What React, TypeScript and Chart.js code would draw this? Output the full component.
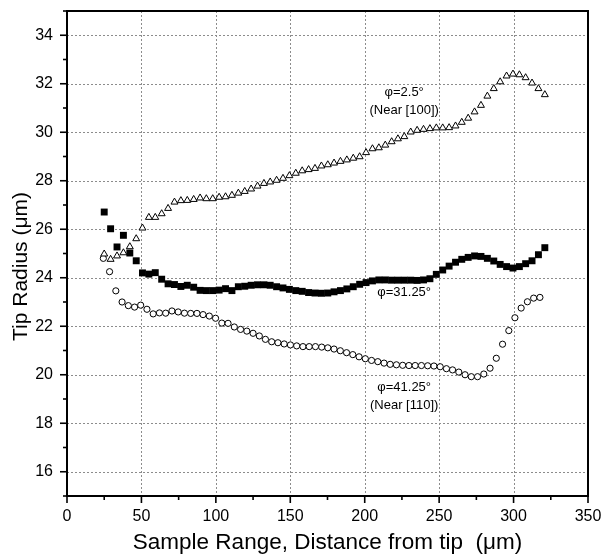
import React, { useEffect, useRef } from "react";
import { Chart, registerables } from "chart.js";

Chart.register(...registerables);

// Sample positions (µm) for the φ=2.5° and φ=31.25° series
const X_A = [
  25.0, 29.3, 33.6, 37.9, 42.2, 46.5, 50.7, 55.0, 59.3, 63.6,
  67.9, 72.2, 76.5, 80.8, 85.1, 89.4, 93.6, 97.9, 102.2, 106.5,
  110.8, 115.1, 119.4, 123.7, 128.0, 132.3, 136.5, 140.8, 145.1, 149.4,
  153.7, 158.0, 162.3, 166.6, 170.9, 175.2, 179.4, 183.7, 188.0, 192.3,
  196.6, 200.9, 205.2, 209.5, 213.8, 218.1, 222.3, 226.6, 230.9, 235.2,
  239.5, 243.8, 248.1, 252.4, 256.7, 261.0, 265.2, 269.5, 273.8, 278.1,
  282.4, 286.7, 291.0, 295.3, 299.6, 303.9, 308.1, 312.4, 316.7, 321.0,
];

// φ=2.5° (Near [100]) – open triangles
const Y_TRI = [
  24.98, 24.76, 24.9, 25.03, 25.28, 25.61, 26.05, 26.49, 26.49, 26.64,
  26.86, 27.12, 27.18, 27.19, 27.23, 27.29, 27.26, 27.26, 27.32, 27.34,
  27.4, 27.49, 27.56, 27.66, 27.78, 27.89, 27.95, 28.02, 28.1, 28.21,
  28.31, 28.41, 28.46, 28.51, 28.61, 28.66, 28.73, 28.8, 28.86, 28.93,
  28.99, 29.16, 29.32, 29.36, 29.47, 29.61, 29.73, 29.82, 30.01, 30.08,
  30.12, 30.15, 30.18, 30.18, 30.19, 30.26, 30.41, 30.58, 30.84, 31.11,
  31.49, 31.8, 32.08, 32.32, 32.4, 32.37, 32.25, 32.03, 31.8, 31.55,
];

// φ=31.25° – filled squares
const Y_SQR = [
  26.71, 26.02, 25.27, 25.75, 25.02, 24.7, 24.2, 24.15, 24.21, 23.94,
  23.75, 23.72, 23.64, 23.69, 23.61, 23.48, 23.47, 23.47, 23.49, 23.55,
  23.47, 23.63, 23.65, 23.69, 23.71, 23.71, 23.69, 23.63, 23.58, 23.52,
  23.47, 23.44, 23.39, 23.37, 23.36, 23.37, 23.42, 23.47, 23.54, 23.63,
  23.73, 23.8, 23.87, 23.91, 23.91, 23.9, 23.9, 23.9, 23.9, 23.89,
  23.91, 23.96, 24.14, 24.32, 24.48, 24.64, 24.76, 24.84, 24.9, 24.88,
  24.8, 24.69, 24.55, 24.46, 24.4, 24.46, 24.58, 24.7, 24.95, 25.24,
];

// Sample positions (µm) for the φ=41.25° series
const X_CIRC = [
  24.4, 28.6, 32.8, 37.0, 41.2, 45.4, 49.5, 53.7, 57.9, 62.1,
  66.3, 70.5, 74.7, 78.9, 83.1, 87.3, 91.4, 95.6, 99.8, 104.0,
  108.2, 112.4, 116.6, 120.8, 125.0, 129.2, 133.3, 137.5, 141.7, 145.9,
  150.1, 154.3, 158.5, 162.7, 166.9, 171.1, 175.2, 179.4, 183.6, 187.8,
  192.0, 196.2, 200.4, 204.6, 208.8, 213.0, 217.1, 221.3, 225.5, 229.7,
  233.9, 238.1, 242.3, 246.5, 250.7, 254.9, 259.0, 263.2, 267.4, 271.6,
  275.8, 280.0, 284.2, 288.4, 292.6, 296.8, 300.9, 305.1, 309.3, 313.5,
  317.7,
];

// φ=41.25° (Near [110]) – open circles
const Y_CIRC = [
  24.8, 24.25, 23.46, 23.0, 22.85, 22.79, 22.87, 22.7, 22.51, 22.55,
  22.54, 22.63, 22.59, 22.54, 22.53, 22.53, 22.48, 22.42, 22.33, 22.13,
  22.12, 21.97, 21.87, 21.8, 21.71, 21.6, 21.46, 21.36, 21.32, 21.27,
  21.23, 21.19, 21.16, 21.16, 21.16, 21.14, 21.11, 21.06, 20.99, 20.91,
  20.83, 20.74, 20.66, 20.59, 20.54, 20.48, 20.43, 20.41, 20.39, 20.38,
  20.38, 20.38, 20.37, 20.36, 20.33, 20.25, 20.2, 20.11, 20.0, 19.92,
  19.92, 20.03, 20.27, 20.68, 21.26, 21.82, 22.35, 22.75, 23.01, 23.16,
  23.19,
];

// Axis tick labels
const X_MAJOR = [0, 50, 100, 150, 200, 250, 300, 350];
const Y_MAJOR = [16, 18, 20, 22, 24, 26, 28, 30, 32, 34];
const X_RANGE = [0, 350];
const Y_RANGE = [15, 35];

const X_TITLE = "Sample Range, Distance from tip  (\u03bcm)";
const Y_TITLE = "Tip Radius (\u03bcm)";

// Curve annotations (text, anchored in data units)
const NOTE_TEXT = ["\u03c6=2.5\u00b0", "(Near [100])", "\u03c6=31.25\u00b0", "\u03c6=41.25\u00b0", "(Near [110])"];
const NOTE_X = [226.5, 226.5, 226.5, 226.5, 226.5];
const NOTE_Y = [31.64, 30.88, 23.39, 19.47, 18.75];

const FONT = '"Liberation Sans", Arial, Helvetica, sans-serif';

const toPoints = (xs: number[], ys: number[]) => ys.map((y, i) => ({ x: xs[i], y }));

const decorPlugin = {
  id: "decor",
  beforeDatasetsDraw(chart: any) {
    const { ctx, chartArea: a, scales } = chart;
    const sx = scales.x;
    const sy = scales.y;
    ctx.save();
    ctx.strokeStyle = "#8c8c8c";
    ctx.lineWidth = 1;
    ctx.setLineDash([2, 2]);
    for (const v of X_MAJOR) {
      if (v <= X_RANGE[0] || v >= X_RANGE[1]) continue;
      const p = Math.round(sx.getPixelForValue(v)) + 0.5;
      ctx.beginPath();
      ctx.moveTo(p, a.top);
      ctx.lineTo(p, a.bottom);
      ctx.stroke();
    }
    for (const v of Y_MAJOR) {
      if (v <= Y_RANGE[0] || v >= Y_RANGE[1]) continue;
      const p = Math.round(sy.getPixelForValue(v)) + 0.5;
      ctx.beginPath();
      ctx.moveTo(a.left, p);
      ctx.lineTo(a.right, p);
      ctx.stroke();
    }
    ctx.restore();
  },
  afterDraw(chart: any) {
    const { ctx, chartArea: a, scales } = chart;
    const sx = scales.x;
    const sy = scales.y;
    ctx.save();
    ctx.setLineDash([]);
    ctx.strokeStyle = "#000";
    ctx.lineWidth = 2;
    ctx.strokeRect(a.left, a.top, a.right - a.left, a.bottom - a.top);
    ctx.lineWidth = 1.6;
    for (const t of sx.ticks) {
      const major = X_MAJOR.includes(t.value);
      const p = sx.getPixelForValue(t.value);
      ctx.beginPath();
      ctx.moveTo(p, a.bottom);
      ctx.lineTo(p, a.bottom + (major ? 7 : 4));
      ctx.stroke();
    }
    for (const t of sy.ticks) {
      const major = Y_MAJOR.includes(t.value);
      const p = sy.getPixelForValue(t.value);
      ctx.beginPath();
      ctx.moveTo(a.left, p);
      ctx.lineTo(a.left - (major ? 7 : 4), p);
      ctx.stroke();
    }
    // annotations
    ctx.fillStyle = "#000";
    ctx.font = `13px ${FONT}`;
    ctx.textAlign = "center";
    ctx.textBaseline = "middle";
    NOTE_TEXT.forEach((txt, i) => {
      ctx.fillText(txt, sx.getPixelForValue(NOTE_X[i]), sy.getPixelForValue(NOTE_Y[i]));
    });
    // y-axis title
    ctx.font = `21px ${FONT}`;
    ctx.translate(21, (a.top + a.bottom) / 2 + 13);
    ctx.rotate(-Math.PI / 2);
    ctx.fillText(Y_TITLE, 0, 0);
    ctx.restore();
  },
};

export default function App() {
  const ref = useRef<HTMLCanvasElement | null>(null);

  useEffect(() => {
    if (!ref.current) return;
    const chart = new Chart(ref.current, {
      type: "scatter",
      data: {
        datasets: [
          {
            label: "\u03c6=31.25\u00b0",
            data: toPoints(X_A, Y_SQR),
            pointStyle: "rect",
            pointRadius: 4.9,
            backgroundColor: "#000",
            borderColor: "#000",
            borderWidth: 0,
          },
          {
            label: "\u03c6=2.5\u00b0 (Near [100])",
            data: toPoints(X_A, Y_TRI),
            pointStyle: "triangle",
            pointRadius: 4,
            backgroundColor: "#fff",
            borderColor: "#000",
            borderWidth: 1,
          },
          {
            label: "\u03c6=41.25\u00b0 (Near [110])",
            data: toPoints(X_CIRC, Y_CIRC),
            pointStyle: "circle",
            pointRadius: 3.1,
            backgroundColor: "#fff",
            borderColor: "#000",
            borderWidth: 1,
          },
        ],
      },
      options: {
        animation: false,
        responsive: false,
        events: [],
        layout: { padding: { left: 0, right: 15, top: 11, bottom: 0 } },
        plugins: {
          legend: { display: false },
          tooltip: { enabled: false },
        },
        scales: {
          x: {
            type: "linear",
            min: X_RANGE[0],
            max: X_RANGE[1],
            grid: { display: false, drawTicks: false },
            border: { display: false },
            ticks: {
              stepSize: 25,
              autoSkip: false,
              maxRotation: 0,
              padding: 11,
              color: "#000",
              font: { family: FONT, size: 16 },
              callback: (v: any) => (X_MAJOR.includes(Number(v)) ? String(v) : ""),
            },
            title: {
              display: true,
              text: X_TITLE,
              color: "#000",
              font: { family: FONT, size: 22.5 },
              padding: { top: 0, bottom: 0 },
            },
            afterFit: (s: any) => {
              s.height = 60;
              s.paddingLeft = 0;
              s.paddingRight = 0;
            },
          },
          y: {
            type: "linear",
            min: Y_RANGE[0],
            max: Y_RANGE[1],
            grid: { display: false, drawTicks: false },
            border: { display: false },
            ticks: {
              stepSize: 1,
              autoSkip: false,
              padding: 14,
              color: "#000",
              font: { family: FONT, size: 16 },
              callback: (v: any) => (Y_MAJOR.includes(Number(v)) ? String(v) : ""),
            },
            afterFit: (s: any) => {
              s.width = 67;
              s.paddingTop = 0;
              s.paddingBottom = 0;
            },
          },
        },
      },
      plugins: [decorPlugin],
    });
    return () => chart.destroy();
  }, []);

  return (
    <div style={{ position: "fixed", left: 0, top: 0, width: 603, height: 556, background: "#fff" }}>
      <canvas ref={ref} width={603} height={556} style={{ display: "block" }} />
    </div>
  );
}
